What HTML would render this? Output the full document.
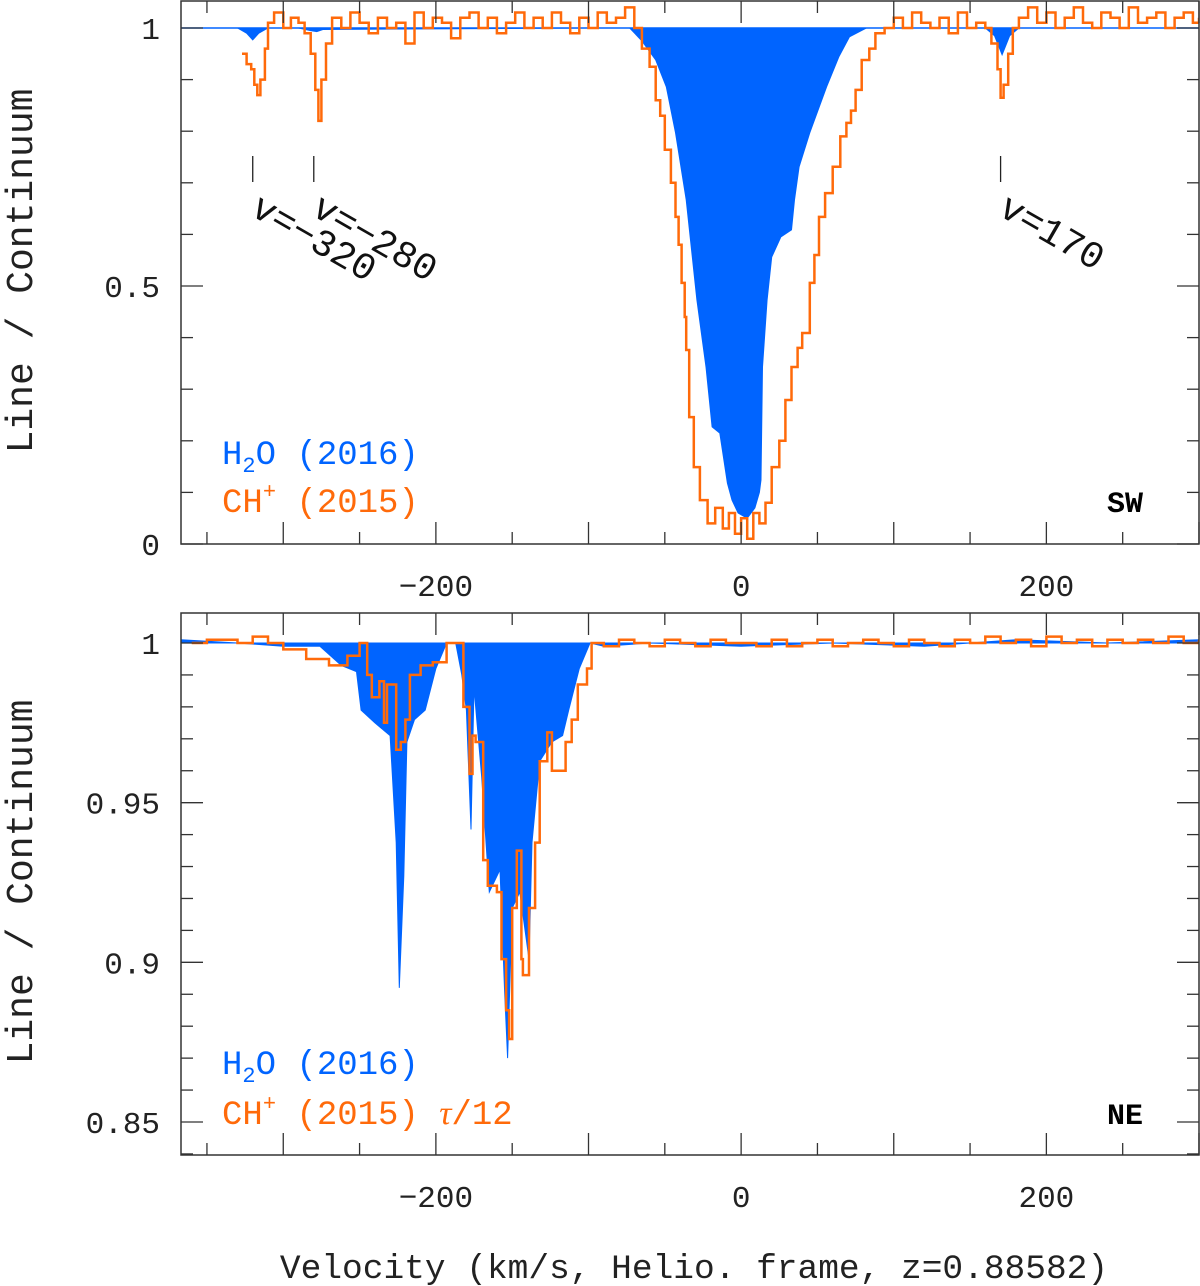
<!DOCTYPE html>
<html><head><meta charset="utf-8"><style>
html,body{margin:0;padding:0;background:#fff;}
svg{display:block;}
text{font-family:"Liberation Mono",monospace;}
</style></head><body>
<svg id="c" width="1200" height="1286" viewBox="0 0 1200 1286"></svg>
<script>
// ---- data (velocity km/s, normalized flux) ----
const topH2OVel=[-367,-330,-324,-320,-316,-310,-290,-282,-278,-274,-100,-80,-73,-65,-56,-49,-43,-36,-29,-23,-19,-14,-9,-6,-2,4,9,12,13,14,17,20,26,33,35,38,45,56,64,71,82,160,166,171,176,182,300];
const topH2OVal=[1.0,1.0,0.99,0.977,0.99,1.0,1.0,0.995,0.993,0.997,1.0,1.0,1.0,0.975,0.938,0.886,0.797,0.667,0.473,0.343,0.227,0.215,0.118,0.085,0.06,0.05,0.07,0.10,0.124,0.343,0.473,0.556,0.595,0.609,0.667,0.731,0.797,0.886,0.944,0.983,1.0,1.0,0.985,0.948,0.985,1.0,1.0];
const topCHVel=[-327,-324,-321,-319,-317,-315,-312,-310,-306,-300,-295,-290,-286,-282,-279,-277,-275,-272,-268,-262,-256,-250,-244,-238,-232,-226,-220,-214,-208,-202,-196,-190,-184,-178,-172,-166,-160,-154,-148,-142,-136,-130,-124,-118,-112,-106,-100,-94,-88,-82,-76,-70,-65,-60,-56,-53,-50,-46,-43,-41,-39,-37,-36,-34,-31,-27,-22,-17,-12,-8,-4,0,4,8,12,16,20,25,29,33,37,40,45,48,51,55,60,65,69,72,75,79,84,88,94,100,106,112,118,124,130,136,142,148,154,160,164,168,170,172,175,178,182,188,194,200,206,212,218,224,230,236,242,248,254,260,266,272,278,284,290,296,300];
const topCHVal=[0.95,0.93,0.92,0.89,0.87,0.9,0.96,1.01,1.03,1.0,1.02,1.01,0.99,0.95,0.88,0.82,0.9,0.97,1.02,1.0,1.03,1.01,0.99,1.02,1.0,1.01,0.97,1.03,1.0,1.02,1.01,0.98,1.02,1.03,1.0,1.02,0.99,1.01,1.03,1.0,1.02,1.0,1.03,1.01,0.99,1.02,1.0,1.03,1.01,1.02,1.04,1.0,0.96,0.925,0.86,0.83,0.764,0.7,0.634,0.58,0.506,0.44,0.376,0.246,0.149,0.085,0.04,0.07,0.03,0.06,0.02,0.05,0.01,0.06,0.04,0.08,0.149,0.2,0.279,0.343,0.38,0.409,0.506,0.56,0.634,0.68,0.731,0.79,0.816,0.84,0.88,0.938,0.96,0.99,1.0,1.02,1.0,1.03,1.01,1.0,1.02,0.99,1.03,1.0,1.01,1.0,0.97,0.92,0.865,0.89,0.95,1.0,1.02,1.04,1.01,1.03,1.0,1.02,1.04,1.01,1.0,1.03,1.02,1.0,1.04,1.01,1.02,1.03,1.0,1.02,1.03,1.01,1.02];
const botH2OVel=[-367,-330,-300,-276,-262,-252,-249,-240,-230,-226,-224,-221,-219,-214,-207,-200,-193,-187,-183,-180,-177,-175,-170,-165,-158,-155,-153,-150,-145,-139,-137,-132,-124,-117,-113,-106,-99,-90,-60,0,60,120,180,240,300];
const botH2OVal=[1.001,1.0,0.999,0.999,0.993,0.991,0.979,0.975,0.971,0.9375,0.892,0.927,0.969,0.976,0.979,0.992,1.0,1.0,0.99,0.979,0.9416,0.986,0.958,0.922,0.929,0.891,0.87,0.917,0.922,0.901,0.9375,0.963,0.969,0.971,0.979,0.992,1.0,0.999,1.0,0.999,1.0,0.999,1.001,1.0,1.001];
const botCHVel=[-360,-350,-340,-330,-320,-310,-300,-285,-270,-258,-250,-245,-242,-237,-234,-232,-226,-223,-220,-217,-210,-202,-193,-187,-182,-178,-176,-174,-169,-166,-160,-157,-154,-152,-150,-147,-144,-143,-139,-135,-132,-127,-124,-118,-115,-111,-107,-101,-98,-90,-80,-70,-60,-50,-40,-30,-20,-10,0,10,20,30,40,50,60,70,80,90,100,110,120,130,140,150,160,170,180,190,200,210,220,230,240,250,260,270,280,290,300];
const botCHVal=[1.0,1.001,1.001,1.0,1.002,1.0,0.998,0.995,0.993,0.996,1.0,0.99,0.983,0.988,0.975,0.987,0.9666,0.969,0.976,0.99,0.993,0.994,1.0,1.0,0.98,0.959,0.971,0.969,0.932,0.924,0.922,0.901,0.885,0.876,0.917,0.935,0.901,0.896,0.917,0.9375,0.963,0.972,0.96,0.96,0.969,0.976,0.987,0.992,1.0,0.999,1.001,1.0,0.999,1.001,1.0,0.999,1.001,1.0,1.0,0.999,1.001,0.999,1.0,1.001,0.999,1.0,1.001,1.0,0.999,1.001,1.0,0.999,1.001,1.0,1.002,1.0,1.001,0.999,1.002,1.0,1.001,0.999,1.001,1.0,1.001,1.0,1.002,1.0,1.001];
const xTickLabels=["\u2212200","0","200"];
const xTickVals=[-200,0,200];
const topYTicks=[0,0.5,1];
const topYLabels=["0","0.5","1"];
const botYTicks=[0.85,0.9,0.95,1];
const botYLabels=["0.85","0.9","0.95","1"];
const marks=[{v:-320,t:"v=\u2212320"},{v:-280,t:"v=\u2212280"},{v:170,t:"v=170"}];

const NS="http://www.w3.org/2000/svg";
const svg=document.getElementById('c');
const X0=181,X1=1199,V0=-367,V1=300;
const xs=v=>X0+(v-V0)/(V1-V0)*(X1-X0);
const pT={y0:544,y1:28,f0:0,f1:1};
const pB={y0:1122,y1:643,f0:0.85,f1:1};
const yT=f=>pT.y0+(f-pT.f0)/(pT.f1-pT.f0)*(pT.y1-pT.y0);
const yB=f=>pB.y0+(f-pB.f0)/(pB.f1-pB.f0)*(pB.y1-pB.y0);
function el(tag,attrs,parent){const e=document.createElementNS(NS,tag);for(const k in attrs)e.setAttribute(k,attrs[k]);(parent||svg).appendChild(e);return e;}

function panel(top,bottom,name){
  const g=el('g',{});
  
  
  const cp=el('clipPath',{id:'cp'+name},g);
  el('rect',{x:X0,y:top,width:X1-X0,height:bottom-top},cp);
  return g;
}
function fillArea(g,vel,val,ys,name,clip){
  let d='M'+xs(vel[0])+','+ys(1);
  for(let i=0;i<vel.length;i++)d+=' L'+xs(vel[i]).toFixed(1)+','+ys(val[i]).toFixed(1);
  d+=' L'+xs(vel[vel.length-1])+','+ys(1)+' Z';
  const p=el('path',{d:d,fill:'#0064ff',stroke:'#0064ff','stroke-width':1,'clip-path':'url(#'+clip+')'},g);
  
  
}
function stepLine(g,vel,val,ys,name,clip){
  let d='';
  for(let i=0;i<vel.length;i++){
    const x=xs(vel[i]).toFixed(1),y=ys(val[i]).toFixed(1);
    if(i===0)d='M'+x+','+y;else d+=' H'+x+' V'+y;
  }
  const p=el('path',{d:d,fill:'none',stroke:'#ff6a0a','stroke-width':2.5,'clip-path':'url(#'+clip+')'},g);
  
  
}
function axes(g,top,bottom,ys,ticks,labels,minorStep,fmin,fmax,prefix){
  const fr=el('rect',{x:X0,y:top,width:X1-X0,height:bottom-top,fill:'none',stroke:'#333','stroke-width':1.5},g);
  
  
  for(let v=-350;v<=300;v+=50){
    const L=(v%100===0)?22:12,x=xs(v);
    el('line',{x1:x,x2:x,y1:bottom,y2:bottom-L,stroke:'#333','stroke-width':1.3},g);
    el('line',{x1:x,x2:x,y1:top,y2:top+L,stroke:'#333','stroke-width':1.3},g);
  }
  for(let i=0;i<xTickVals.length;i++){
    const t=el('text',{x:xs(xTickVals[i]),y:bottom+52,'font-size':31,'text-anchor':'middle',fill:'#222'},g);
    t.textContent=xTickLabels[i];
    
    
  }
  const n=Math.round((fmax-fmin)/minorStep);
  for(let k=0;k<=n;k++){
    const f=fmin+k*minorStep,y=ys(f);
    const major=ticks.some(t=>Math.abs(t-f)<1e-6);
    const L=major?22:12;
    el('line',{x1:X0,x2:X0+L,y1:y,y2:y,stroke:'#333','stroke-width':1.3},g);
    el('line',{x1:X1,x2:X1-L,y1:y,y2:y,stroke:'#333','stroke-width':1.3},g);
  }
  for(let i=0;i<ticks.length;i++){
    const t=el('text',{x:160,y:ys(ticks[i])+11,'font-size':31,'text-anchor':'end',fill:'#222'},g);
    t.textContent=labels[i];
    
    
  }
}
const gT=panel(1,544,'top-panel');
fillArea(gT,topH2OVel,topH2OVal,yT,'h2o-fill-sw','cptop-panel');
el('line',{x1:X0,x2:X1,y1:yT(1),y2:yT(1),stroke:'#0064ff','stroke-width':1.5},gT);
stepLine(gT,topCHVel,topCHVal,yT,'ch-line-sw','cptop-panel');
axes(gT,1,544,yT,topYTicks,topYLabels,0.1,0,1,'top');
for(const m of marks){
  const x=xs(m.v);
  const l=el('line',{x1:x,x2:x,y1:156,y2:182,stroke:'#222','stroke-width':1.3},gT);
  
  
  const t=el('text',{x:x-4,y:214,'font-size':38,fill:'#111',transform:'rotate(30 '+(x-4)+' 214)'},gT);
  t.textContent=m.t;
  
  
}
const gB=panel(613,1155,'bottom-panel');
fillArea(gB,botH2OVel,botH2OVal,yB,'h2o-fill-ne','cpbottom-panel');
stepLine(gB,botCHVel,botCHVal,yB,'ch-line-ne','cpbottom-panel');
axes(gB,613,1155,yB,botYTicks,botYLabels,0.01,0.84,1.0,'bottom');

function txt(x,y,s,size,fill,name,extra){
  const t=el('text',Object.assign({x:x,y:y,'font-size':size,fill:fill},extra||{}));
  t.innerHTML=s;
  
  
  return t;
}
txt(222,464,'H<tspan font-size="22" dy="8">2</tspan><tspan dy="-8">O (2016)</tspan>',34,'#0064ff','legend-h2o-sw');
txt(222,512,'CH<tspan font-size="22" dy="-14">+</tspan><tspan dy="14"> (2015)</tspan>',34,'#ff6a0a','legend-ch-sw');
txt(1107,512,'SW',30,'#000','panel-label-sw',{'font-weight':'bold'});
txt(222,1074,'H<tspan font-size="22" dy="8">2</tspan><tspan dy="-8">O (2016)</tspan>',34,'#0064ff','legend-h2o-ne');
txt(222,1124,'CH<tspan font-size="22" dy="-14">+</tspan><tspan dy="14"> (2015) </tspan><tspan font-family="Liberation Serif" font-style="italic">τ</tspan>/12',34,'#ff6a0a','legend-ch-ne');
txt(1107,1124,'NE',30,'#000','panel-label-ne',{'font-weight':'bold'});
txt(694,1278,'Velocity (km/s, Helio. frame, z=0.88582)',34.5,'#222','x-axis-title',{'text-anchor':'middle'});
txt(0,0,'Line / Continuum',38,'#222','y-axis-title-top',{'text-anchor':'middle',transform:'translate(32 271) rotate(-90)'});
txt(0,0,'Line / Continuum',38,'#222','y-axis-title-bottom',{'text-anchor':'middle',transform:'translate(32 882) rotate(-90)'});
</script>
</body></html>
